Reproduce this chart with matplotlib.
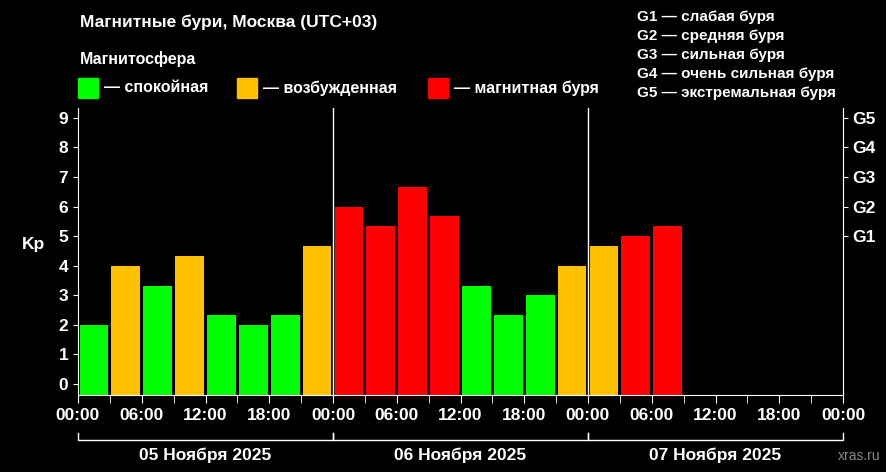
import matplotlib
matplotlib.use("Agg")
import matplotlib.pyplot as plt
import numpy as np

kp = [2, 4, 3.33, 4.33, 2.33, 2, 2.33, 4.67,
      6, 5.33, 6.67, 5.67, 3.33, 2.33, 3, 4,
      4.67, 5, 5.33]
hour_labels = ["00:00", "06:00", "12:00", "18:00"] * 3 + ["00:00"]
days = ["05 Ноября 2025", "06 Ноября 2025", "07 Ноября 2025"]
g_labels = ["G1", "G2", "G3", "G4", "G5"]
g_text = ["G1 — слабая буря", "G2 — средняя буря", "G3 — сильная буря",
          "G4 — очень сильная буря", "G5 — экстремальная буря"]

def col(v):
    if v < 4: return "#00ff00"
    if v < 5: return "#ffc000"
    return "#ff0000"

plt.rcParams['font.family'] = ['Liberation Sans', 'DejaVu Sans']
plt.rcParams['font.weight'] = 'bold'
fig = plt.figure(figsize=(8.86, 4.72), dpi=100, facecolor="black")
ax = fig.add_axes([78/886, 1-395/472, (843-78)/886, (395-108)/472], facecolor="black")
ymin = -0.37
x = np.arange(len(kp)) + 0.5
ax.bar(x, np.array(kp) - ymin, bottom=ymin, width=0.9, color=[col(v) for v in kp])
ax.set_xlim(0, 24)
ax.set_ylim(ymin, 9.33)
for d in (8, 16):
    ax.axvline(d, color="white", lw=1)
for s in ax.spines.values():
    s.set_color("white")
ax.spines['top'].set_visible(False)
ax.set_yticks(range(10))
ax.tick_params(colors="white", labelsize=12.5)
ax.set_xticks(np.arange(0, 25, 2))
ax.set_xticklabels(hour_labels)
ax.set_xticks(np.arange(1, 24, 2), minor=True)
ax.tick_params(axis='x', which='both', length=6, color="white")
ax.set_ylabel("Kp", color="white", fontsize=12.5, fontweight="bold", rotation=0, labelpad=18)
ax2 = ax.twinx()
ax2.set_ylim(ax.get_ylim())
ax2.set_yticks([5, 6, 7, 8, 9])
ax2.set_yticklabels(g_labels)
ax2.tick_params(colors="white", labelsize=12.5)
for s in ax2.spines.values():
    s.set_visible(False)
ax2.spines['right'].set_visible(True); ax2.spines['right'].set_color("white")

for i, d in enumerate(days):
    x0, x1 = i*8, (i+1)*8
    ax.plot([x0, x0, x1, x1], [-1.65, -1.9, -1.9, -1.65], color="white", lw=1,
            clip_on=False)
    ax.text((x0+x1)/2, -2.4, d, color="white", fontsize=12.5, ha="center", va="center",
            clip_on=False)

fig.text(80/886, 1-22/472, "Магнитные бури, Москва (UTC+03)", color="white", fontsize=12.5, va="center")
fig.text(80/886, 1-59/472, "Магнитосфера", color="white", fontsize=11.5, va="center")
legend = [("— спокойная", "#00ff00", 78), ("— возбужденная", "#ffc000", 237), ("— магнитная буря", "#ff0000", 428)]
for t, c, px in legend:
    fig.patches.append(plt.Rectangle((px/886, 1-98/472), 20/886, 20/472, color=c, transform=fig.transFigure))
    fig.text((px+26)/886, 1-88/472, t, color="white", fontsize=11.5, va="center")
for i, t in enumerate(g_text):
    fig.text(637/886, 1-(17+19*i)/472, t, color="white", fontsize=11, va="center")
fig.text(880/886, 1-456/472, "xras.ru", color="#888888", fontsize=10, ha="right", va="center", fontweight="normal")
fig.savefig("out.png", dpi=100, facecolor="black")
